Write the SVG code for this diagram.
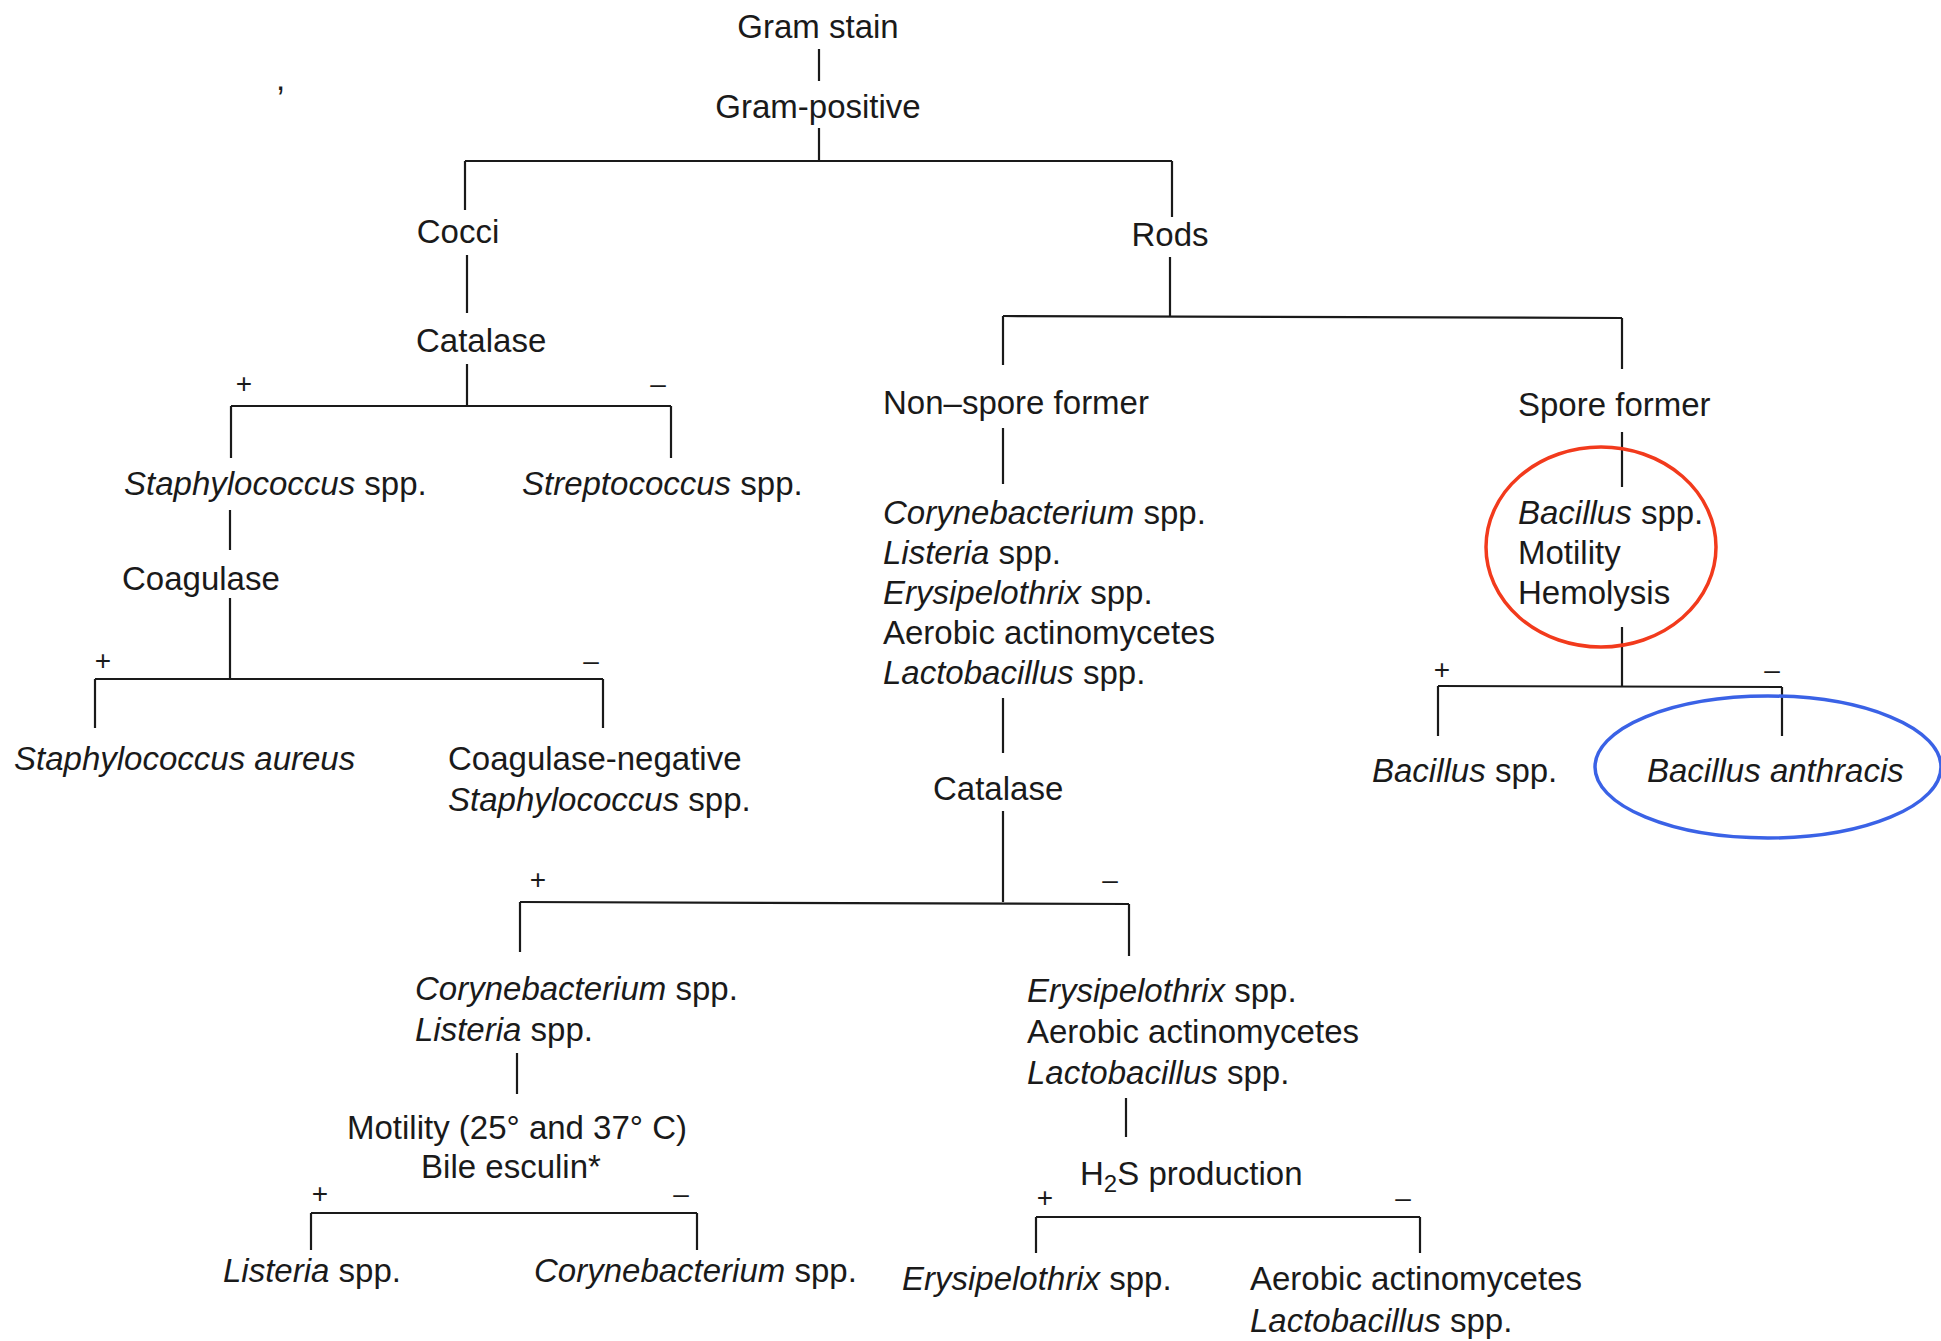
<svg xmlns="http://www.w3.org/2000/svg" width="1941" height="1341" viewBox="0 0 1941 1341">
<style>
text{font-family:"Liberation Sans",Arial,sans-serif;font-size:33px;fill:#1a1a1a}
.i{font-style:italic}
.s{font-size:28px}
.c{text-anchor:middle}
#connectors line{stroke:#1a1a1a;stroke-width:2.2;fill:none}
</style>
<rect width="1941" height="1341" fill="#fff"/>
<g id="connectors">
<line x1="819" y1="49" x2="819" y2="81"/>
<line x1="819" y1="128" x2="819" y2="161"/>
<line x1="465" y1="161" x2="1172" y2="161"/>
<line x1="465" y1="161" x2="465" y2="210"/>
<line x1="1172" y1="161" x2="1172" y2="217"/>
<line x1="467" y1="255" x2="467" y2="313"/>
<line x1="467" y1="364" x2="467" y2="406"/>
<line x1="231" y1="406" x2="671" y2="406"/>
<line x1="231" y1="406" x2="231" y2="458"/>
<line x1="671" y1="406" x2="671" y2="458"/>
<line x1="230" y1="510" x2="230" y2="550"/>
<line x1="230" y1="598" x2="230" y2="679"/>
<line x1="95" y1="679" x2="603" y2="679"/>
<line x1="95" y1="679" x2="95" y2="728"/>
<line x1="603" y1="679" x2="603" y2="728"/>
<line x1="1170" y1="257" x2="1170" y2="316"/>
<line x1="1003" y1="316" x2="1622" y2="318"/>
<line x1="1003" y1="316" x2="1003" y2="365"/>
<line x1="1622" y1="318" x2="1622" y2="369"/>
<line x1="1003" y1="428" x2="1003" y2="484"/>
<line x1="1622" y1="432" x2="1622" y2="487"/>
<line x1="1622" y1="627" x2="1622" y2="686"/>
<line x1="1438" y1="686" x2="1782" y2="687"/>
<line x1="1438" y1="686" x2="1438" y2="736"/>
<line x1="1782" y1="687" x2="1782" y2="736"/>
<line x1="1003" y1="698" x2="1003" y2="753"/>
<line x1="1003" y1="811" x2="1003" y2="902"/>
<line x1="520" y1="902" x2="1129" y2="904"/>
<line x1="520" y1="902" x2="520" y2="952"/>
<line x1="1129" y1="904" x2="1129" y2="956"/>
<line x1="517" y1="1053" x2="517" y2="1094"/>
<line x1="311" y1="1213" x2="697" y2="1213"/>
<line x1="311" y1="1213" x2="311" y2="1250"/>
<line x1="697" y1="1213" x2="697" y2="1250"/>
<line x1="1126" y1="1098" x2="1126" y2="1137"/>
<line x1="1036" y1="1217" x2="1420" y2="1217"/>
<line x1="1036" y1="1217" x2="1036" y2="1253"/>
<line x1="1420" y1="1217" x2="1420" y2="1253"/>
</g>
<g id="signs">
<text class="s c" x="244" y="393">+</text>
<text class="s c" x="658" y="393">–</text>
<text class="s c" x="103" y="670">+</text>
<text class="s c" x="591" y="670">–</text>
<text class="s c" x="1442" y="679">+</text>
<text class="s c" x="1772" y="679">–</text>
<text class="s c" x="538" y="889">+</text>
<text class="s c" x="1110" y="889">–</text>
<text class="s c" x="320" y="1203">+</text>
<text class="s c" x="681" y="1203">–</text>
<text class="s c" x="1045" y="1207">+</text>
<text class="s c" x="1403" y="1207">–</text>
</g>
<g id="n-gramstain"><text class="c" x="818" y="38">Gram stain</text></g>
<g id="n-grampositive"><text class="c" x="818" y="118">Gram-positive</text></g>
<g id="n-mark"><text x="276" y="90" font-size="22">,</text></g>
<g id="n-cocci"><text class="c" x="458" y="243">Cocci</text></g>
<g id="n-rods"><text class="c" x="1170" y="246">Rods</text></g>
<g id="n-catalase1"><text x="416" y="352">Catalase</text></g>
<g id="n-staph"><text x="124" y="495"><tspan class="i">Staphylococcus</tspan> spp.</text></g>
<g id="n-strep"><text x="522" y="495"><tspan class="i">Streptococcus</tspan> spp.</text></g>
<g id="n-coagulase"><text x="122" y="590">Coagulase</text></g>
<g id="n-saureus"><text class="i" x="14" y="770">Staphylococcus aureus</text></g>
<g id="n-coagneg"><text x="448" y="770">Coagulase-negative</text><text x="448" y="811"><tspan class="i">Staphylococcus</tspan> spp.</text></g>
<g id="n-nonspore"><text x="883" y="414">Non–spore former</text></g>
<g id="n-spore"><text x="1518" y="416">Spore former</text></g>
<g id="n-nonspore-list">
<text x="883" y="524"><tspan class="i">Corynebacterium</tspan> spp.</text>
<text x="883" y="564"><tspan class="i">Listeria</tspan> spp.</text>
<text x="883" y="604"><tspan class="i">Erysipelothrix</tspan> spp.</text>
<text x="883" y="644">Aerobic actinomycetes</text>
<text x="883" y="684"><tspan class="i">Lactobacillus</tspan> spp.</text>
</g>
<g id="n-bacillus">
<text x="1518" y="524"><tspan class="i">Bacillus</tspan> spp.</text>
<text x="1518" y="564">Motility</text>
<text x="1518" y="604">Hemolysis</text>
<ellipse cx="1601" cy="547" rx="115" ry="100" fill="none" stroke="#f23a1c" stroke-width="3.5"/>
</g>
<g id="n-bacillus-spp"><text x="1372" y="782"><tspan class="i">Bacillus</tspan> spp.</text></g>
<g id="n-anthracis">
<text class="i" x="1647" y="782">Bacillus anthracis</text>
<ellipse cx="1768" cy="767" rx="173" ry="71" fill="none" stroke="#3a62e6" stroke-width="3.5"/>
</g>
<g id="n-catalase2"><text x="933" y="800">Catalase</text></g>
<g id="n-corlis">
<text x="415" y="1000"><tspan class="i">Corynebacterium</tspan> spp.</text>
<text x="415" y="1041"><tspan class="i">Listeria</tspan> spp.</text>
</g>
<g id="n-erylist">
<text x="1027" y="1002"><tspan class="i">Erysipelothrix</tspan> spp.</text>
<text x="1027" y="1043">Aerobic actinomycetes</text>
<text x="1027" y="1084"><tspan class="i">Lactobacillus</tspan> spp.</text>
</g>
<g id="n-motility"><text class="c" x="517" y="1139">Motility (25° and 37° C)</text><text class="c" x="511" y="1178">Bile esculin*</text></g>
<g id="n-h2s"><text x="1080" y="1185">H<tspan dy="7" font-size="24">2</tspan><tspan dy="-7">S production</tspan></text></g>
<g id="n-listeria"><text x="223" y="1282"><tspan class="i">Listeria</tspan> spp.</text></g>
<g id="n-coryne"><text x="534" y="1282"><tspan class="i">Corynebacterium</tspan> spp.</text></g>
<g id="n-erysi"><text x="902" y="1290"><tspan class="i">Erysipelothrix</tspan> spp.</text></g>
<g id="n-aerolacto">
<text x="1250" y="1290">Aerobic actinomycetes</text>
<text x="1250" y="1332"><tspan class="i">Lactobacillus</tspan> spp.</text>
</g>
</svg>
